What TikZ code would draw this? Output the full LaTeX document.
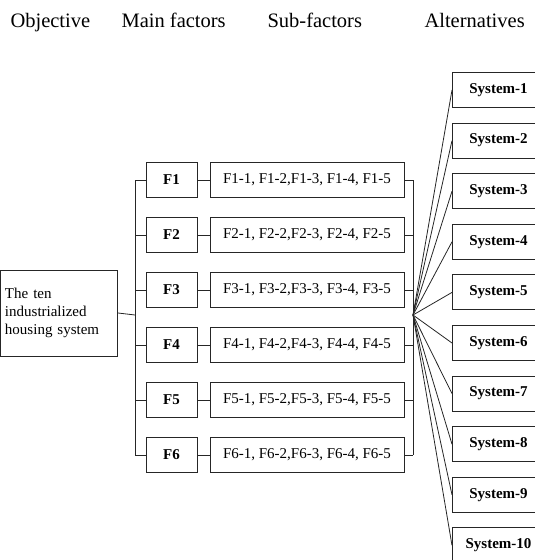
\documentclass[tikz,border=0pt]{standalone}
\usepackage{fontspec}
\setmainfont{Liberation Serif}
\usepackage{tikz}

\begin{document}
\begin{tikzpicture}[x=1pt,y=-1pt,
    head/.style={anchor=base west,font=\fontsize{20.5}{24}\selectfont},
    box/.style={draw=black!85,line width=1pt,minimum height=35pt,inner sep=0pt,
        font=\fontsize{15}{18}\selectfont},
    fbox/.style={box,minimum width=51pt,font=\fontsize{15}{18}\selectfont\bfseries},
    subbox/.style={box,minimum width=194pt},
    altbox/.style={box,minimum width=92pt,font=\fontsize{15}{18}\selectfont\bfseries},
    link/.style={draw=black!85,line width=0.8pt}]
    \useasboundingbox (0,0) rectangle (535,560);
    \clip (0,0) rectangle (535,560);
    % column titles
    \node[head] (t1) at (7,27) {Objective};
    \node[head] (t2) at (118,27) {Main factors};
    \node[head] (t3) at (264,27) {Sub-factors};
    \node[head] (t4) at (421,27) {Alternatives};
    % objective
    \node[box,minimum width=117pt,minimum height=86pt,text width=108pt,align=left,
        inner xsep=4.5pt] (obj) at (59,313)
        {The ten\\industrialized\\housing system};
    % main factors and sub-factors
    \foreach \i in {1,...,6}{
        \node[fbox] (f\i) at (171.5,125+55*\i) {F\i};
        \node[subbox] (s\i) at (307,125+55*\i)
            {F\i-1, F\i-2,F\i-3, F\i-4, F\i-5};
        \draw[link] (f\i) -- (s\i);
    }
    \coordinate (lbus) at (135,315);
    \coordinate (rbus) at (413,315);
    \foreach \i in {1,...,6}{
        \draw[link] (f\i.west) -- (f\i.west -| lbus);
        \draw[link] (s\i.east) -- (s\i.east -| rbus);
    }
    \draw[link] (lbus |- f1) -- (lbus |- f6);
    \draw[link] (rbus |- s1) -- (rbus |- s6);
    \draw[link] (obj.east) -- (lbus);
    % alternatives
    \foreach \j in {1,...,10}{
        \node[altbox,anchor=west] (alt\j) at (452,39.4+50.6*\j) {System-\j};
        \draw[link] (rbus) -- (alt\j.west);
    }
\end{tikzpicture}
\end{document}
